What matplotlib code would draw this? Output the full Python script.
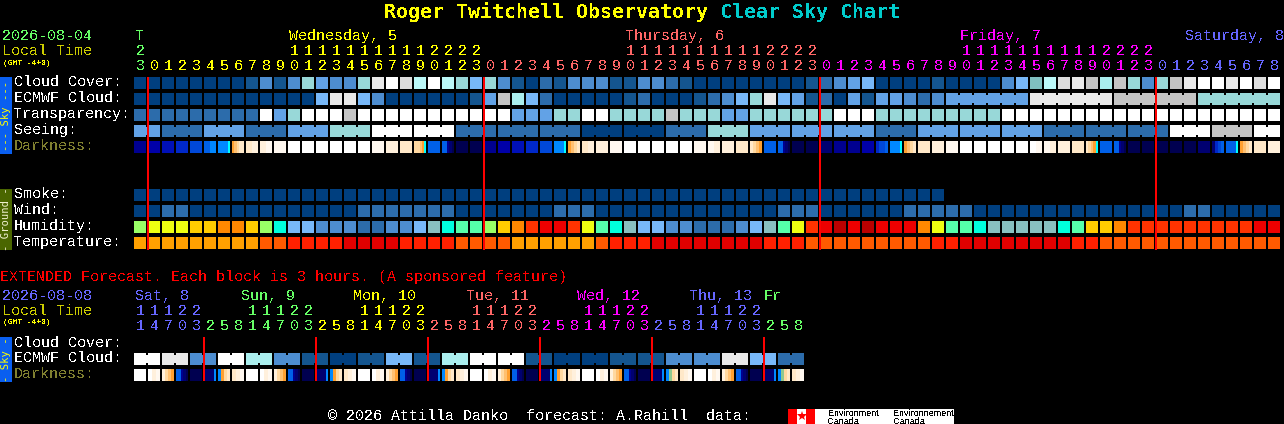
import matplotlib
matplotlib.use("Agg")
import matplotlib.pyplot as plt
from matplotlib.patches import Rectangle

plt.rcParams['text.antialiased'] = False

# ===============================
# DATA: one letter per hour column
# ===============================

cloud_cover = "aaaaaaaa" "bdbdgedd" "glwsiwig" "fgdbacbd" "ddbbddcb" "aaaaaaaa" "bcdefaaa" "abaaaadf" "tislmhmg" "dgmlwwlw" "sw"
ecmwf_cloud = "aaaaaaaa" "aaaaafll" "fdaaaaaa" "bemhfcaa" "aaabcaaa" "bcdfglfe" "bcaebeed" "cdeeeeee" "llllllmm" "mmmmgggg" "gg"
transparency = "cccccccc" "cwegwwwm" "wwwwwwww" "wwweeegg" "wwggggmg" "ggeegggg" "ggwwwggg" "ggggggww" "wwwwwwww" "wwwwwwww" "ww"
seeing = "eeccceee" "ccceeegg" "gwwwwwwc" "cccccccc" "aaaaaacc" "cgggeeee" "eeeeeccc" "eeeeeeee" "eccccccc" "ccwwwmmm" "ww"
smoke = "aaaaaaaa" "aaaaaaaa" "aaaaaaaa" "aaaaaaaa" "aaaaaaaa" "aaaaaaaa" "aaaaaaaa" "aa"
wind = "aaccaaaa" "aaaaaaaa" "ccccccca" "aaaaaacc" "caaaaaaa" "aaaaaacc" "caaaaaac" "ccccaaaa" "aaaaaaaa" "aaaccaaa" "aa"
humidity = "LYYYOORR" "OLCffddd" "ccddfTCM" "MLORXEEX" "YMCTffdd" "cccdfTMY" "XEBEBEEE" "RYMMCTTT" "TTCMOORX" "XXXXXXXX" "EE"
temperature = "PPPPPPPP" "PQQSSSSU" "UUUSSSSQ" "QQQPPPPP" "PQSSSUUU" "UUUUUSSS" "QQQQQQQQ" "QSSUUUUU" "UUUSSQQQ" "QQQQQQQQ" "QQ"

# each darkness cell is read left to right, a few colour steps per cell
darkness = [
    "2", "3", "4", "5", "6", "7788", "8888889", "opqrr",
    "rs", "st", "t", "w", "w", "w", "w", "w",
    "w", "t", "s", "r", "qqqpo9", "7", "77210", "0",
    "0", "2", "3", "4", "5", "6", "8888889", "opqr",
    "rs", "s", "t", "w", "w", "w", "w", "w",
    "t", "ts", "s", "r", "rqpo", "7", "77210", "0",
    "0", "1", "2", "2", "3", "5667", "8888889", "opqr",
    "r", "s", "t", "w", "w", "w", "w", "w",
    "wt", "ts", "s", "r", "rqpo9", "7", "77210", "0",
    "0", "0", "0", "0", "1", "1567", "7777779", "opqr",
    "r", "s",
]

ext_cloud = "wwllddwwhhddbbaabbffbbhhwwwwbbaaaabbbbddddllffcc"
ext_darkness = [
    "w", "wst", "sqpo", "77210", "0", "111118", "8oqr", "rst",
    "w", "wst", "sqpo", "77210", "0", "111118", "8oqr", "rst",
    "w", "wst", "sqpo", "77210", "0", "111118", "8oqr", "rst",
    "w", "wst", "sqpo", "77210", "0", "111118", "8oqr", "rst",
    "w", "wst", "sqpo", "77210", "0", "111118", "8gqr", "rst",
    "w", "wst", "sqpo", "77210", "0", "111118", "8gqr", "rst",
]

hour_units = "3" + "012345678901234567890123" "012345678901234567890123" "012345678901234567890123" + "012345678"
hour_tens = "2" + "          11111111112222" "          11111111112222" "          11111111112222" + "         "
ext_units = "14703258" "14703258" "14703258" "14703258" "14703258" "14703258"
ext_tens = "11122   " "11122   " "11122   " "11122   " "11122   " "11122   "

main_rows = ["Cloud Cover:", "ECMWF Cloud:", "Transparency:", "Seeing:", "Darkness:"]
ground_rows = ["Smoke:", "Wind:", "Humidity:", "Temperature:"]
ext_rows = ["Cloud Cover:", "ECMWF Cloud:", "Darkness:"]

day_names = ["T", "Wednesday, 5", "Thursday, 6", "Friday, 7", "Saturday, 8"]
ext_day_names = ["Sat, 8", "Sun, 9", "Mon, 10", "Tue, 11", "Wed, 12", "Thu, 13", "Fr"]

# ===============================
# COLOURS AND LAYOUT
# ===============================

palette = {
    "a": "#003f7f", "b": "#14558f", "c": "#2c6cab", "d": "#4d8dd0", "e": "#62a2e6",
    "f": "#78b8f8", "g": "#98d8d8", "h": "#aaeeee", "i": "#bbf8f8", "t": "#80c0c0",
    "w": "#ffffff", "l": "#e9e9e9", "s": "#dddddd", "m": "#c4c4c4",
    "L": "#99ff66", "Y": "#eeff11", "O": "#ffcc00", "R": "#ff8800", "X": "#ff3300",
    "E": "#ee0000", "B": "#bb0000", "C": "#00ffdd", "M": "#55ffaa", "T": "#88c0c0",
    "P": "#ffa000", "Q": "#ff5a00", "S": "#ff2000", "U": "#e00000",
}

dark_palette = {
    "0": "#000050", "1": "#000070", "2": "#000090", "3": "#0000a8", "4": "#0010b8",
    "5": "#0028c8", "6": "#0048d8", "7": "#0060e8", "8": "#0088ff", "9": "#00ffff",
    "o": "#ffa030", "p": "#ffc070", "q": "#ffd8a0", "r": "#ffe8c8", "s": "#fff0dc",
    "t": "#fff8f0", "w": "#ffffff", "g": "#90c890",
}

GREEN = "#66ff66"
YELLOW = "#ffff00"
SALMON = "#ff6666"
MAGENTA = "#ff00ff"
BLUE = "#6666ff"
LOCAL = "#cccc00"
DIM = "#808030"

X0 = 134
PITCH = 14
SIZE = 12
MONO = "Liberation Mono"


def px(size):
    return size * 72 / 100


fig = plt.figure(figsize=(12.84, 4.24), dpi=100, facecolor="black")
ax = fig.add_axes([0, 0, 1, 1])
ax.set_xlim(0, 1284)
ax.set_ylim(424, 0)
ax.axis("off")


def rect(x, y, w, h, color, z=2):
    ax.add_patch(Rectangle((x, y), w, h, facecolor=color, edgecolor="none",
                           antialiased=False, zorder=z))


def label(x, y, s, color="white", size=15, **kw):
    kw.setdefault("family", MONO)
    ax.text(x, y, s, color=color, fontsize=px(size), va="baseline", ha="left", **kw)


def band_text(y, s, color):
    ax.text(6, y, s, color=color, fontsize=px(10.5), rotation=90, family="DejaVu Sans Mono",
            ha="center", va="center", zorder=4, antialiased=True)


def draw_row(values, y, group_sizes=None):
    for i, v in enumerate(values):
        rect(X0 + i * PITCH, y, SIZE, SIZE, palette[v])
    if group_sizes is None:
        return
    # blocks of one forecast step are linked by a small bridge
    start = 0
    for n in group_sizes:
        for i in range(start, start + n - 1):
            rect(X0 + i * PITCH + SIZE, y + 2, 2, SIZE - 4, palette[values[i]])
        start += n


def draw_dark_row(cells, y):
    for i, cell in enumerate(cells):
        step = SIZE / len(cell)
        for k, c in enumerate(cell):
            x1 = X0 + i * PITCH + round(k * step)
            x2 = X0 + i * PITCH + round((k + 1) * step)
            rect(x1, y, x2 - x1, SIZE, dark_palette[c])


# ===============================
# TITLE
# ===============================

ax.text(384, 18, "Roger Twitchell Observatory", color=YELLOW, fontsize=px(20),
        family="DejaVu Sans Mono", weight="bold", va="baseline")
ax.text(720, 18, "Clear Sky Chart", color="#00cccc", fontsize=px(20),
        family="DejaVu Sans Mono", weight="bold", va="baseline")

# ===============================
# MAIN CHART
# ===============================

label(2, 40, "2026-08-04", GREEN)
label(2, 55, "Local Time", LOCAL)
label(3, 65, "(GMT -4+0)", YELLOW, size=8)

day_x = [135, 289, 625, 960, 1185]
day_colors = [GREEN, YELLOW, SALMON, MAGENTA, BLUE]
for x, s, c in zip(day_x, day_names, day_colors):
    label(x, 40, s, c)

for i in range(len(hour_units)):
    if i == 0:
        c = GREEN
    elif i <= 24:
        c = YELLOW
    elif i <= 48:
        c = SALMON
    elif i <= 72:
        c = MAGENTA
    else:
        c = BLUE
    xc = X0 + i * PITCH + 2
    label(xc, 55, hour_tens[i], c)
    label(xc, 70, hour_units[i], c)

sky_rows = [77, 93, 109, 125, 141]
label_base = [86, 102, 118, 134, 150]
for y, s in zip(label_base, main_rows):
    label(14, y, s, DIM if s == "Darkness:" else "white")

ecmwf_groups = [1] * 58 + [6, 6, 6, 6]
seeing_groups = [2] + [3] * 26 + [2]
draw_row(cloud_cover, sky_rows[0])
draw_row(ecmwf_cloud, sky_rows[1], ecmwf_groups)
draw_row(transparency, sky_rows[2])
draw_row(seeing, sky_rows[3], seeing_groups)
draw_dark_row(darkness, sky_rows[4])

ground_y = [189, 205, 221, 237]
ground_base = [198, 214, 230, 246]
for y, s in zip(ground_base, ground_rows):
    label(14, y, s)
draw_row(smoke, ground_y[0])
draw_row(wind, ground_y[1])
draw_row(humidity, ground_y[2])
draw_row(temperature, ground_y[3])

for x in [147, 483, 819, 1155]:
    rect(x, 77, 2, 173, "#ff0000", z=3)

# side bands
rect(0, 77, 12, 77, "#0a5ff0")
rect(0, 189, 12, 61, "#4a6600")
rect(0, 337, 12, 45, "#0a5ff0")
band_text(115.5, "--- Sky ---", YELLOW)
band_text(219.5, "- Ground -", "#f0f0d0")
band_text(359.5, "- Sky -", YELLOW)

# ===============================
# EXTENDED FORECAST
# ===============================

label(0, 281, "EXTENDED Forecast. Each block is 3 hours. (A sponsored feature)", "#ff0000")
label(2, 300, "2026-08-08", BLUE)
label(2, 315, "Local Time", LOCAL)
label(3, 324, "(GMT -4+0)", YELLOW, size=8)

ext_day_x = [135, 241, 353, 466, 577, 689, 764]
ext_day_colors = [BLUE, GREEN, YELLOW, SALMON, MAGENTA, BLUE, GREEN]
for x, s, c in zip(ext_day_x, ext_day_names, ext_day_colors):
    label(x, 300, s, c)

for i in range(len(ext_units)):
    if i <= 4:
        c = BLUE
    elif i <= 12:
        c = GREEN
    elif i <= 20:
        c = YELLOW
    elif i <= 28:
        c = SALMON
    elif i <= 36:
        c = MAGENTA
    elif i <= 44:
        c = BLUE
    else:
        c = GREEN
    xc = X0 + i * PITCH + 2
    label(xc, 315, ext_tens[i], c)
    label(xc, 330, ext_units[i], c)

for y, s in zip([347, 362, 378], ext_rows):
    label(14, y, s, DIM if s == "Darkness:" else "white")

draw_row(ext_cloud, 353, [2] * 24)
draw_dark_row(ext_darkness, 369)

for x in [203, 315, 427, 539, 651, 763]:
    rect(x, 337, 2, 44, "#ff0000", z=3)

# ===============================
# FOOTER
# ===============================

label(328, 420, "\u00a9 2026 Attilla Danko  forecast: A.Rahill  data:")

rect(788, 409, 27, 15, "#ff0000")
rect(797, 409, 9, 15, "#ffffff")
ax.plot([801.5], [416], marker="*", color="#ff0000", markersize=7, markeredgewidth=0, zorder=4)
rect(815, 409, 139, 15, "#ffffff")
for x, s in [(828, "Environment"), (893, "Environnement")]:
    ax.text(x, 415.5, s, color="black", fontsize=px(9), family="Liberation Sans", zorder=4)
    ax.text(x, 423.5, "Canada", color="black", fontsize=px(9), family="Liberation Sans", zorder=4)

fig.savefig("out.png", dpi=100, facecolor="black")
